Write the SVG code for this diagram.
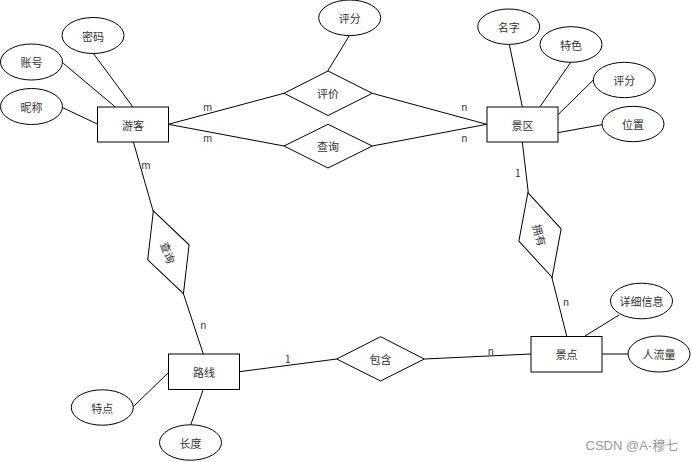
<svg xmlns="http://www.w3.org/2000/svg" width="692" height="462" viewBox="0 0 692 462">
<style>
.s{fill:#fff;stroke:#000;stroke-width:1}
.c line{stroke:#000;stroke-width:1}
text{font-family:"Noto Sans CJK SC","Liberation Sans",sans-serif;fill:#333;text-anchor:middle;dominant-baseline:central}
.t{font-size:11px}
.l{font-size:10px}
.w{font-family:"Liberation Sans","Noto Sans CJK SC",sans-serif;font-size:13px;fill:#999;text-anchor:start}
</style>
<rect width="692" height="462" fill="#fff"/>
<g class="c">
<line x1="93.3" y1="53.3" x2="132.7" y2="106.7"/>
<line x1="63.3" y1="63.3" x2="115" y2="106.7"/>
<line x1="62.7" y1="107.7" x2="97.3" y2="124"/>
<line x1="168.3" y1="124.3" x2="284" y2="93.3"/>
<line x1="168.3" y1="124.3" x2="284" y2="146"/>
<line x1="349.3" y1="35.7" x2="327.7" y2="71"/>
<line x1="372.3" y1="93.3" x2="486.7" y2="124.3"/>
<line x1="372.3" y1="146" x2="486.7" y2="124.3"/>
<line x1="509.3" y1="44.3" x2="522.3" y2="106.7"/>
<line x1="570.7" y1="62.3" x2="540" y2="106.7"/>
<line x1="593.3" y1="80" x2="557.7" y2="115"/>
<line x1="602" y1="124.7" x2="557.7" y2="132.7"/>
<line x1="522.3" y1="141.7" x2="528.3" y2="192.7"/>
<line x1="551.7" y1="276.7" x2="566.7" y2="336"/>
<line x1="619" y1="315" x2="585" y2="336"/>
<line x1="602.3" y1="354" x2="628.3" y2="354"/>
<line x1="424.3" y1="359" x2="531" y2="354"/>
<line x1="239.3" y1="371.7" x2="336.7" y2="359"/>
<line x1="133.3" y1="141.7" x2="153.3" y2="211.7"/>
<line x1="183.3" y1="293.3" x2="203.3" y2="354"/>
<line x1="133.3" y1="406.7" x2="168.3" y2="372.7"/>
<line x1="190.7" y1="425" x2="203.3" y2="389.3"/>
<text class="l" x="207.7" y="106.7">m</text>
<text class="l" x="207.7" y="137">m</text>
<text class="l" x="146" y="164">m</text>
<text class="l" x="464.3" y="106.7">n</text>
<text class="l" x="464.3" y="137">n</text>
<text class="l" x="517.7" y="172.7">1</text>
<text class="l" x="566" y="301.7">n</text>
<text class="l" x="490.7" y="350">n</text>
<text class="l" x="287.7" y="358.5">1</text>
<text class="l" x="203.3" y="324">n</text>
</g>
<g id="youke"><rect class="s" x="97.5" y="107" width="71" height="35"/><text class="t" x="133" y="124.5">游客</text></g>
<g id="jingqu"><rect class="s" x="487" y="107" width="71" height="35"/><text class="t" x="522.5" y="124.5">景区</text></g>
<g id="jingdian"><rect class="s" x="531" y="336.5" width="71" height="35.5"/><text class="t" x="566.5" y="354">景点</text></g>
<g id="luxian"><rect class="s" x="168.5" y="354" width="71" height="35.5"/><text class="t" x="204" y="371.5">路线</text></g>
<g id="mima"><ellipse class="s" cx="93" cy="35.5" rx="31" ry="18"/><text class="t" x="93" y="35.5">密码</text></g>
<g id="zhanghao"><ellipse class="s" cx="31.5" cy="62" rx="31" ry="18"/><text class="t" x="31.5" y="62">账号</text></g>
<g id="nicheng"><ellipse class="s" cx="31.5" cy="106.5" rx="31" ry="18"/><text class="t" x="31.5" y="106.5">昵称</text></g>
<g id="pingfen1"><ellipse class="s" cx="349.7" cy="17.8" rx="31" ry="17.8"/><text class="t" x="349.7" y="17.8">评分</text></g>
<g id="mingzi"><ellipse class="s" cx="508.7" cy="26.7" rx="31" ry="17.7"/><text class="t" x="508.7" y="26.7">名字</text></g>
<g id="tese"><ellipse class="s" cx="571" cy="44.5" rx="31" ry="17.8"/><text class="t" x="571" y="44.5">特色</text></g>
<g id="pingfen2"><ellipse class="s" cx="624.3" cy="80" rx="31" ry="17.7"/><text class="t" x="624.3" y="80">评分</text></g>
<g id="weizhi"><ellipse class="s" cx="633" cy="124" rx="31" ry="17.7"/><text class="t" x="633" y="124">位置</text></g>
<g id="xiangxi"><ellipse class="s" cx="641.5" cy="301" rx="31" ry="17.8"/><text class="t" x="641.5" y="301">详细信息</text></g>
<g id="renliu"><ellipse class="s" cx="659" cy="354" rx="31" ry="18"/><text class="t" x="659" y="354">人流量</text></g>
<g id="tedian"><ellipse class="s" cx="102.3" cy="407.5" rx="31" ry="17.7"/><text class="t" x="102.3" y="407.5">特点</text></g>
<g id="changdu"><ellipse class="s" cx="190.5" cy="442.5" rx="31" ry="17.7"/><text class="t" x="190.5" y="442.5">长度</text></g>
<g id="pingjia"><polygon class="s" points="284,93.3 328,71 372.3,93.3 328,115.5"/><text class="t" x="328" y="93.3">评价</text></g>
<g id="chaxun1"><polygon class="s" points="284,146 328,124.3 372.3,146 328,168"/><text class="t" x="328" y="146">查询</text></g>
<g id="baohan"><polygon class="s" points="336.7,359 380.6,336.7 424.3,359 380.6,381"/><text class="t" x="380.6" y="359">包含</text></g>
<g id="yongyou" transform="translate(540,235) rotate(74)"><polygon class="s" points="-44,0 0,-22 44,0 0,22"/><text class="t" x="0" y="0">拥有</text></g>
<g id="chaxun2" transform="translate(168.4,252.3) rotate(70)"><polygon class="s" points="-44,0 0,-22 44,0 0,22"/><text class="t" x="0" y="0">查询</text></g>
<text class="w" x="585.5" y="445">CSDN @A-穆七</text>
</svg>
